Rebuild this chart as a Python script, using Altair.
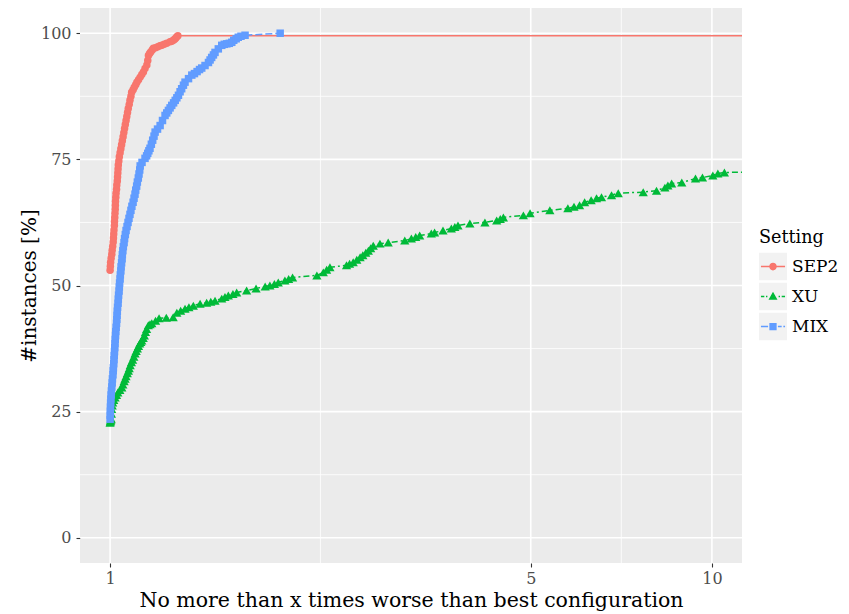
import altair as alt
import pandas as pd

# ---------------- data ----------------
SETTINGS = ["SEP2", "XU", "MIX"]
COLORS = ["#F8766D", "#00BA38", "#619CFF"]

SEP2_X = [1.000, 1.001, 1.002, 1.004, 1.0065, 1.008, 1.010, 1.012, 1.013, 1.014,
          1.015, 1.0166, 1.017, 1.018, 1.019, 1.020, 1.0205, 1.021, 1.022, 1.023,
          1.025, 1.026, 1.028, 1.029, 1.030, 1.031, 1.032, 1.034, 1.036, 1.039,
          1.042, 1.045, 1.048, 1.051, 1.054, 1.057, 1.060, 1.063, 1.066, 1.069,
          1.072, 1.076, 1.079, 1.083, 1.086, 1.092, 1.097, 1.103, 1.108, 1.115,
          1.122, 1.129, 1.136, 1.143, 1.151, 1.155, 1.158, 1.163, 1.168, 1.175,
          1.180, 1.190, 1.200, 1.210, 1.219, 1.230, 1.242, 1.258, 1.266, 1.274,
          1.280, 1.285, 1.291, 1.296, 100.0]
SEP2_Y = [53.0, 53.8, 54.6, 55.4, 56.2, 57.0, 57.8, 58.6, 59.4, 60.2,
          61.0, 61.9, 62.7, 63.5, 64.3, 65.1, 65.9, 66.7, 67.5, 68.3,
          69.1, 69.9, 70.7, 71.5, 72.3, 73.1, 73.9, 74.7, 75.5, 76.3,
          77.1, 77.9, 78.7, 79.5, 80.3, 81.1, 81.9, 82.7, 83.5, 84.3,
          85.1, 85.9, 86.7, 87.5, 88.3, 88.8, 89.3, 89.8, 90.3, 90.8,
          91.3, 91.8, 92.3, 93.0, 93.7, 94.6, 95.6, 96.0, 96.3, 96.7,
          97.0, 97.1, 97.3, 97.5, 97.6, 97.8, 98.0, 98.3, 98.4, 98.6,
          98.8, 99.0, 99.3, 99.5, 99.5]

XU_X = [1.000, 1.001, 1.002, 1.003, 1.004, 1.005, 1.006, 1.008, 1.010, 1.014,
        1.0193, 1.025, 1.030, 1.038, 1.0458, 1.050, 1.055, 1.059, 1.063, 1.068,
        1.0725, 1.076, 1.080, 1.085, 1.090, 1.095, 1.1003, 1.105, 1.110, 1.115,
        1.120, 1.1245, 1.1289, 1.135, 1.140, 1.145, 1.150, 1.1576, 1.165, 1.173,
        1.190, 1.206, 1.240, 1.273, 1.291, 1.310, 1.332, 1.352, 1.375, 1.411,
        1.447, 1.470, 1.494, 1.533, 1.552, 1.572, 1.600, 1.623, 1.686, 1.748,
        1.810, 1.843, 1.875, 1.903, 1.952, 1.980, 2.010, 2.206, 2.261, 2.290,
        2.319, 2.471, 2.500, 2.535, 2.570, 2.603, 2.630, 2.660, 2.686, 2.710,
        2.737, 2.808, 2.898, 3.088, 3.167, 3.220, 3.269, 3.418, 3.461, 3.574,
        3.690, 3.740, 3.785, 3.961, 4.196, 4.389, 4.450, 4.503, 4.861, 4.987,
        5.379, 5.763, 5.900, 6.027, 6.145, 6.300, 6.431, 6.555, 6.811, 6.988,
        7.689, 8.090, 8.354, 8.450, 8.572, 8.911, 9.392, 9.645, 10.035, 10.23,
        10.49, 13.0]
XU_Y = [22.8, 23.0, 23.2, 23.4, 23.6, 24.6, 25.5, 26.2, 26.8, 27.3,
        27.8, 28.3, 28.8, 29.3, 29.8, 30.4, 31.0, 31.5, 32.0, 32.6,
        33.1, 33.6, 34.2, 34.8, 35.3, 35.9, 36.5, 37.0, 37.5, 38.0,
        38.5, 38.8, 39.1, 39.6, 40.1, 40.8, 41.4, 42.1, 42.3, 42.5,
        43.0, 43.5, 43.6, 43.7, 44.6, 45.0, 45.4, 45.7, 46.0, 46.4,
        46.6, 46.8, 47.0, 47.4, 47.7, 48.0, 48.3, 48.6, 49.0, 49.4,
        49.8, 50.0, 50.3, 50.6, 51.0, 51.3, 51.6, 52.0, 52.6, 53.1,
        53.6, 54.0, 54.3, 54.6, 55.1, 55.6, 56.0, 56.5, 56.9, 57.4,
        57.9, 58.3, 58.5, 58.9, 59.3, 59.6, 59.9, 60.3, 60.5, 60.9,
        61.3, 61.6, 61.9, 62.3, 62.5, 62.9, 63.2, 63.5, 63.9, 64.3,
        64.9, 65.3, 65.6, 65.9, 66.5, 66.9, 67.3, 67.5, 67.9, 68.3,
        68.5, 68.8, 69.4, 69.8, 70.2, 70.4, 71.2, 71.4, 71.8, 72.2,
        72.4, 72.6]

MIX_X = [1.000, 1.0005, 1.001, 1.0015, 1.002, 1.003, 1.004, 1.005, 1.0065, 1.008,
         1.009, 1.011, 1.012, 1.0127, 1.014, 1.015, 1.016, 1.017, 1.018, 1.019,
         1.020, 1.021, 1.022, 1.0235, 1.025, 1.026, 1.027, 1.028, 1.029, 1.031,
         1.032, 1.033, 1.035, 1.036, 1.037, 1.039, 1.040, 1.042, 1.043, 1.045,
         1.047, 1.048, 1.050, 1.052, 1.055, 1.057, 1.060, 1.063, 1.067, 1.071,
         1.075, 1.079, 1.083, 1.087, 1.092, 1.096, 1.100, 1.103, 1.107, 1.110,
         1.114, 1.117, 1.120, 1.122, 1.130, 1.143, 1.150, 1.155, 1.160, 1.165,
         1.171, 1.177, 1.183, 1.188, 1.199, 1.211, 1.222, 1.234, 1.242, 1.250,
         1.258, 1.266, 1.275, 1.283, 1.291, 1.299, 1.307, 1.315, 1.324, 1.332,
         1.350, 1.367, 1.381, 1.395, 1.408, 1.420, 1.438, 1.457, 1.466, 1.475,
         1.485, 1.494, 1.513, 1.533, 1.548, 1.563, 1.578, 1.593, 1.605, 1.620,
         1.633, 1.650, 1.676, 1.917]
MIX_Y = [23.5, 24.3, 25.1, 25.9, 26.7, 27.5, 28.3, 29.1, 29.9, 30.7,
         31.5, 32.3, 33.1, 33.7, 34.5, 35.3, 36.1, 36.9, 37.7, 38.5,
         39.3, 40.1, 40.9, 41.7, 42.5, 43.3, 44.1, 44.9, 45.7, 46.5,
         47.3, 48.1, 48.9, 49.7, 50.5, 51.3, 52.1, 52.9, 53.7, 54.5,
         55.3, 56.1, 56.9, 57.7, 58.5, 59.3, 60.1, 60.9, 61.7, 62.5,
         63.3, 64.1, 64.9, 65.7, 66.5, 67.3, 68.1, 68.9, 69.7, 70.5,
         71.3, 72.1, 72.9, 73.7, 74.4, 75.2, 75.7, 76.2, 76.7, 77.2,
         78.0, 78.8, 79.6, 80.4, 81.0, 81.7, 82.7, 83.7, 84.2, 84.7,
         85.2, 85.7, 86.2, 86.7, 87.2, 87.7, 88.4, 89.0, 89.7, 90.3,
         91.0, 91.7, 92.0, 92.4, 92.8, 93.1, 93.6, 94.2, 94.7, 95.2,
         95.7, 96.2, 96.9, 97.6, 97.8, 97.9, 98.0, 98.2, 98.6, 98.9,
         99.2, 99.4, 99.6, 100.0]

X_TICKS = [1, 5, 10]
X_MINOR = [2.236, 7.071]
Y_TICKS = [0, 25, 50, 75, 100]
Y_MINOR = [12.5, 37.5, 62.5, 87.5]

X_TITLE = "No more than x times worse than best configuration"
Y_TITLE = "#instances [%]"
LEGEND_TITLE = "Setting"

# ---------------- tables ----------------
df = pd.concat([
    pd.DataFrame({"x": SEP2_X, "y": SEP2_Y, "Setting": "SEP2"}),
    pd.DataFrame({"x": XU_X, "y": XU_Y, "Setting": "XU"}),
    pd.DataFrame({"x": MIX_X, "y": MIX_Y, "Setting": "MIX"}),
], ignore_index=True)

xmaj = pd.DataFrame({"x": X_TICKS})
xmin = pd.DataFrame({"x": X_MINOR})
ymaj = pd.DataFrame({"y": Y_TICKS})
ymin = pd.DataFrame({"y": Y_MINOR})

FONT = "DejaVu Serif"
xscale = alt.Scale(type="log", domain=[10 ** -0.05, 10 ** 1.05], nice=False)
yscale = alt.Scale(domain=[-5, 105], nice=False, zero=False)

xaxis = alt.Axis(values=X_TICKS, format="d", title=X_TITLE, grid=False, domain=False,
                 tickColor="#333333", tickSize=4, tickWidth=1.1, labelPadding=3,
                 labelFont=FONT, labelFontSize=16, labelColor="#4D4D4D",
                 titleFont=FONT, titleFontSize=20.5, titleFontWeight="normal",
                 titleColor="#000000", titlePadding=4)
yaxis = alt.Axis(values=Y_TICKS, title=Y_TITLE, grid=False, domain=False,
                 tickColor="#333333", tickSize=4, tickWidth=1.1, labelPadding=5,
                 labelFont=FONT, labelFontSize=16, labelColor="#4D4D4D",
                 titleFont=FONT, titleFontSize=20, titleFontWeight="normal",
                 titleColor="#000000", titlePadding=1)

X = alt.X("x:Q", scale=xscale, axis=xaxis)
Y = alt.Y("y:Q", scale=yscale, axis=yaxis)

# ---------------- grid ----------------
g1 = alt.Chart(xmin).mark_rule(color="white", strokeWidth=0.8).encode(x=X)
g2 = alt.Chart(ymin).mark_rule(color="white", strokeWidth=0.8).encode(y=Y)
g3 = alt.Chart(xmaj).mark_rule(color="white", strokeWidth=1.6).encode(x=X)
g4 = alt.Chart(ymaj).mark_rule(color="white", strokeWidth=1.6).encode(y=Y)

# ---------------- series ----------------
DASHES = {"SEP2": [1, 0], "XU": [2, 3, 6, 3], "MIX": [7, 3]}
SHAPES = {"SEP2": ("circle", 56), "XU": ("triangle-up", 85), "MIX": ("square", 56)}


def series(name, col):
    base = alt.Chart(df).transform_filter(alt.datum.Setting == name)
    ln = base.mark_line(strokeWidth=1.5, clip=True, color=col,
                        strokeDash=DASHES[name]).encode(x=X, y=Y, order=alt.Order("x:Q"))
    shp, sz = SHAPES[name]
    pt = base.mark_point(filled=True, shape=shp, size=sz, opacity=1, clip=True,
                         color=col).encode(x=X, y=Y)
    return [ln, pt]


series_layers = []
for n, c in zip(SETTINGS, COLORS):
    series_layers += series(n, c)

# ---------------- legend (keys drawn as line + marker on grey key boxes) ----------------
SEP2_KEY = ("M-0.86,-0.055H-0.22V0.055H-0.86Z M0.22,-0.055H0.86V0.055H0.22Z "
            "M0.27,0A0.27,0.27 0 1 1 -0.27,0A0.27,0.27 0 1 1 0.27,0Z")
XU_KEY = ("M-0.86,-0.055H-0.62V0.055H-0.86Z M-0.5,-0.055H-0.4V0.055H-0.5Z "
          "M0,-0.34L0.32,0.22L-0.32,0.22Z M0.4,-0.055H0.5V0.055H0.4Z "
          "M0.62,-0.055H0.86V0.055H0.62Z")
MIX_KEY = ("M-0.86,-0.055H-0.35V0.055H-0.86Z M-0.26,-0.26H0.26V0.26H-0.26Z "
           "M0.35,-0.055H0.62V0.055H0.35Z M0.74,-0.055H0.86V0.055H0.74Z")

LX, LY = 679, 221
common_leg = dict(orient="none", legendX=LX, legendY=LY,
                  titleFont=FONT, titleFontSize=17.6, titleFontWeight="normal",
                  titleColor="#000000", titlePadding=6, labelFont=FONT,
                  labelFontSize=17, labelColor="#000000", labelOffset=5,
                  symbolSize=784, rowPadding=2, padding=0, symbolStrokeWidth=0,
                  clipHeight=28)

leg_main = alt.Legend(zindex=2, title=LEGEND_TITLE, symbolOpacity=1, **common_leg)
leg_bg = alt.Legend(zindex=1, title=" ", labelExpr="' '", symbolType="square",
                    symbolFillColor="#F2F2F2", symbolOpacity=1, **common_leg)

legend_layer = alt.Chart(df).mark_point(filled=True, opacity=0, size=784).encode(
    x=X, y=Y,
    color=alt.Color("Setting:N", scale=alt.Scale(domain=SETTINGS, range=COLORS),
                    legend=leg_main),
    shape=alt.Shape("Setting:N", scale=alt.Scale(
        domain=SETTINGS, range=[SEP2_KEY, XU_KEY, MIX_KEY]), legend=leg_main),
)

KEY_IDS = ["k" + s for s in SETTINGS]
bg_layer = alt.Chart(df).transform_calculate(key="'k' + datum.Setting").mark_point(
    filled=True, opacity=0, shape="square", color="#F2F2F2").encode(
    x=X, y=Y,
    size=alt.Size("key:O", scale=alt.Scale(domain=KEY_IDS, range=[784, 784, 784]),
                  legend=leg_bg),
)

chart = alt.layer(g1, g2, g3, g4, *series_layers, bg_layer, legend_layer).properties(
    width=662, height=555,
    padding={"left": 72, "top": 0, "right": 99, "bottom": 51},
    autosize=alt.AutoSizeParams(type="none"),
).configure(font=FONT).configure_view(fill="#EBEBEB", stroke=None)

chart.save("out.html", embed_options={"renderer": "svg", "actions": False})
